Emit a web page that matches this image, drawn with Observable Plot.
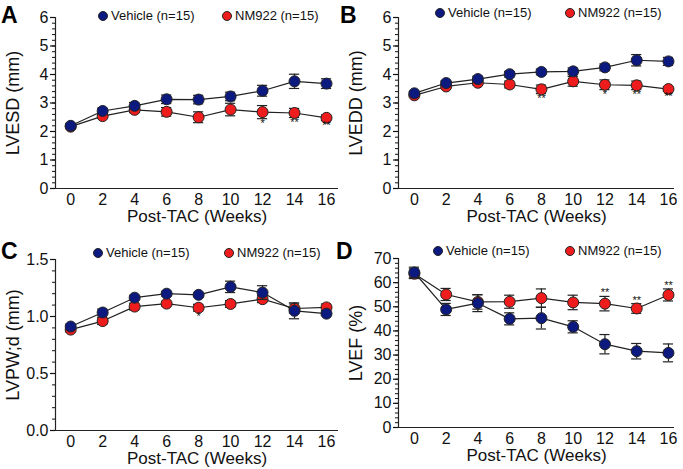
<!DOCTYPE html>
<html>
<head>
<meta charset="utf-8">
<script src="https://cdn.jsdelivr.net/npm/d3@7"></script>
<script src="https://cdn.jsdelivr.net/npm/@observablehq/plot@0.6"></script>
<style>
  html, body { margin: 0; padding: 0; background: #fff; }
  #root { position: relative; width: 683px; height: 469px; overflow: hidden; font-family: "Liberation Sans", Arial, sans-serif; }
  .panel { position: absolute; }
  .letter { position: absolute; font-weight: bold; font-size: 23px; color: #000; line-height: 1; }
  .legend { position: absolute; font-size: 13px; color: #111; white-space: nowrap; }
  .legend .sw { display: inline-block; width: 10px; height: 10px; border-radius: 50%; border: 1px solid #222; box-sizing: border-box; vertical-align: -1px; margin-right: 3px; }
</style>
</head>
<body>
<div id="root"></div>
<script>
// ---- data ----
const weeks = [0, 2, 4, 6, 8, 10, 12, 14, 16];
const groups = ["Vehicle (n=15)", "NM922 (n=15)"];

const lvesdVehicle = [2.20, 2.72, 2.90, 3.13, 3.12, 3.23, 3.43, 3.76, 3.68];
const lvesdVehicleErr = [0.08, 0.10, 0.12, 0.15, 0.15, 0.15, 0.19, 0.25, 0.17];
const lvesdNM922 = [2.17, 2.54, 2.76, 2.69, 2.50, 2.77, 2.68, 2.65, 2.48];
const lvesdNM922Err = [0.06, 0.08, 0.10, 0.15, 0.19, 0.22, 0.23, 0.16, 0.10];
const lvesdSig = ["", "", "", "", "", "", "*", "**", "**"];

const lveddVehicle = [3.34, 3.70, 3.84, 4.01, 4.09, 4.11, 4.25, 4.50, 4.46];
const lveddVehicleErr = [0.06, 0.08, 0.10, 0.10, 0.10, 0.12, 0.12, 0.20, 0.14];
const lveddNM922 = [3.27, 3.58, 3.71, 3.65, 3.48, 3.76, 3.64, 3.62, 3.49];
const lveddNM922Err = [0.05, 0.07, 0.08, 0.12, 0.15, 0.17, 0.17, 0.15, 0.08];
const lveddSig = ["", "", "", "", "**", "", "*", "**", "**"];

const lvpwVehicle = [0.912, 1.035, 1.165, 1.200, 1.190, 1.260, 1.210, 1.050, 1.025];
const lvpwVehicleErr = [0.02, 0.03, 0.02, 0.02, 0.015, 0.05, 0.06, 0.07, 0.015];
const lvpwNM922 = [0.885, 0.960, 1.087, 1.113, 1.077, 1.110, 1.152, 1.070, 1.080];
const lvpwNM922Err = [0.02, 0.03, 0.03, 0.02, 0.03, 0.03, 0.03, 0.04, 0.03];
const lvpwSig = ["", "", "", "", "*", "", "", "", ""];

const lvefVehicle = [64.2, 48.9, 51.5, 45.0, 45.3, 41.7, 34.5, 31.6, 30.9];
const lvefVehicleErr = [2.2, 2.5, 3.5, 2.5, 4.5, 2.5, 4.0, 3.2, 3.7];
const lvefNM922 = [63.7, 55.1, 52.0, 52.1, 53.6, 51.8, 51.3, 49.3, 54.9];
const lvefNM922Err = [2.0, 2.5, 3.0, 2.7, 3.8, 3.0, 3.0, 2.0, 2.5];
const lvefSig = ["", "", "", "", "", "", "**", "**", "**"];

const xTitle = "Post-TAC (Weeks)";
const colors = { vehicle: "#0c1a80", nm: "#ee1c1c" };

// ---- drawing ----
function panel(cfg) {
  const rows = (vals, errs, g) => weeks.map((w, i) => ({ w, v: vals[i], e: errs[i], g }));
  const veh = rows(cfg.veh, cfg.vehErr, "veh");
  const nm = rows(cfg.nm, cfg.nmErr, "nm");
  const sigRows = nm.map((d, i) => ({ ...d, s: cfg.sig[i] })).filter(d => d.s);
  const capHalf = 0.32;
  const series = (data, fill) => [
    Plot.line(data, { x: "w", y: "v", stroke: "#222", strokeWidth: 1.2 }),
    Plot.ruleX(data, { x: "w", y1: d => d.v - d.e, y2: d => d.v + d.e, stroke: "#222", strokeWidth: 1.2 }),
    Plot.ruleY(data, { y: d => d.v + d.e, x1: d => d.w - capHalf, x2: d => d.w + capHalf, stroke: "#222", strokeWidth: 1.2 }),
    Plot.ruleY(data, { y: d => d.v - d.e, x1: d => d.w - capHalf, x2: d => d.w + capHalf, stroke: "#222", strokeWidth: 1.2 }),
    Plot.dot(data, { x: "w", y: "v", r: 5.5, fill, stroke: "#222", strokeWidth: 1 })
  ];
  return Plot.plot({
    width: cfg.width, height: cfg.height,
    marginLeft: cfg.ml, marginRight: cfg.mr, marginTop: cfg.mt, marginBottom: cfg.mb,
    style: { fontFamily: "Liberation Sans, Arial, sans-serif", fontSize: "16px", color: "#111", background: "transparent", overflow: "visible" },
    x: { domain: cfg.xDomain },
    y: { domain: [0, cfg.yMax] },
    marks: [
      Plot.ruleY([0], { x1: cfg.xDomain[0], x2: cfg.xDomain[1], stroke: "#222", strokeWidth: 1.2 }),
      Plot.ruleX([cfg.xDomain[0]], { y1: 0, y2: cfg.yMax, stroke: "#222", strokeWidth: 1.2 }),
      Plot.axisY(cfg.yMinor, { tickSize: 3, tickFormat: () => "", label: null, strokeWidth: 1 }),
      Plot.axisY(cfg.yMajor, { tickSize: 5, tickPadding: 2, tickFormat: cfg.yFmt, label: null, fontSize: 16, strokeWidth: 1.2 }),
      Plot.axisX(weeks, { tickSize: 0, tickPadding: 5, label: null, fontSize: 16 }),
      Plot.text([xTitle], { text: d => d, frameAnchor: "bottom", lineAnchor: "middle", dy: 28, fontSize: 17 }),
      Plot.text([cfg.yTitle], { text: d => d, frameAnchor: "left", textAnchor: "middle", lineAnchor: "middle", dx: -42, rotate: -90, fontSize: 18 }),
      ...series(nm, colors.nm),
      ...series(veh, colors.vehicle),
      cfg.sigBelow
        ? Plot.text(sigRows, { x: "w", y: d => d.v - d.e, text: "s", lineAnchor: "top", dy: 1, fontSize: 11 })
        : Plot.text(sigRows, { x: "w", y: d => d.v + d.e, text: "s", lineAnchor: "bottom", dy: 0, fontSize: 11 })
    ]
  });
}

const root = document.getElementById("root");
function place(el, left, top) {
  const wrap = document.createElement("div");
  wrap.className = "panel";
  wrap.style.left = left + "px";
  wrap.style.top = top + "px";
  wrap.appendChild(el);
  root.appendChild(wrap);
}
function letter(t, left, top) {
  const d = document.createElement("div");
  d.className = "letter"; d.textContent = t;
  d.style.left = left + "px"; d.style.top = top + "px";
  root.appendChild(d);
}
function legend(left, top, fill, label) {
  const d = document.createElement("div");
  d.className = "legend";
  d.style.left = left + "px"; d.style.top = top + "px";
  const sw = document.createElement("span");
  sw.className = "sw"; sw.style.background = fill;
  d.appendChild(sw);
  d.appendChild(document.createTextNode(label));
  root.appendChild(d);
}

const xA = [-0.95, 16.75], xB = [-1.0, 16.38];
const r = (a, b, s) => d3.range(0, Math.round((b - a) / s) + 1).map(i => +(a + i * s).toFixed(3));

place(panel({
  veh: lvesdVehicle, vehErr: lvesdVehicleErr, nm: lvesdNM922, nmErr: lvesdNM922Err, sig: lvesdSig, sigBelow: true,
  yMax: 6, yMajor: r(0, 6, 1), yMinor: r(0, 6, 0.2), yFmt: d3.format("d"), yTitle: "LVESD (mm)",
  xDomain: xA, width: 340, height: 235, ml: 55, mr: 2, mt: 17, mb: 47
}), 0, 0);

place(panel({
  veh: lveddVehicle, vehErr: lveddVehicleErr, nm: lveddNM922, nmErr: lveddNM922Err, sig: lveddSig, sigBelow: true,
  yMax: 6, yMajor: r(0, 6, 1), yMinor: r(0, 6, 0.2), yFmt: d3.format("d"), yTitle: "LVEDD (mm)",
  xDomain: xB, width: 343, height: 235, ml: 58, mr: 9, mt: 17, mb: 47
}), 340, 0);

place(panel({
  veh: lvpwVehicle, vehErr: lvpwVehicleErr, nm: lvpwNM922, nmErr: lvpwNM922Err, sig: lvpwSig, sigBelow: true,
  yMax: 1.5, yMajor: r(0, 1.5, 0.5), yMinor: r(0, 1.5, 0.1), yFmt: d3.format(".1f"), yTitle: "LVPW;d (mm)",
  xDomain: xA, width: 340, height: 234, ml: 55, mr: 2, mt: 24, mb: 39
}), 0, 235);

place(panel({
  veh: lvefVehicle, vehErr: lvefVehicleErr, nm: lvefNM922, nmErr: lvefNM922Err, sig: lvefSig, sigBelow: false,
  yMax: 70, yMajor: r(0, 70, 10), yMinor: r(0, 70, 2), yFmt: d3.format("d"), yTitle: "LVEF (%)",
  xDomain: xB, width: 343, height: 234, ml: 58, mr: 9, mt: 23, mb: 42
}), 340, 235);

letter("A", 1, 4); letter("B", 340, 4); letter("C", 1, 240); letter("D", 336, 240);

legend(98, 8, colors.vehicle, groups[0]);  legend(222, 8, colors.nm, groups[1]);
legend(435, 5, colors.vehicle, groups[0]); legend(565, 5, colors.nm, groups[1]);
legend(93, 245, colors.vehicle, groups[0]); legend(224, 245, colors.nm, groups[1]);
legend(433, 243, colors.vehicle, groups[0]); legend(565, 243, colors.nm, groups[1]);
</script>
</body>
</html>
